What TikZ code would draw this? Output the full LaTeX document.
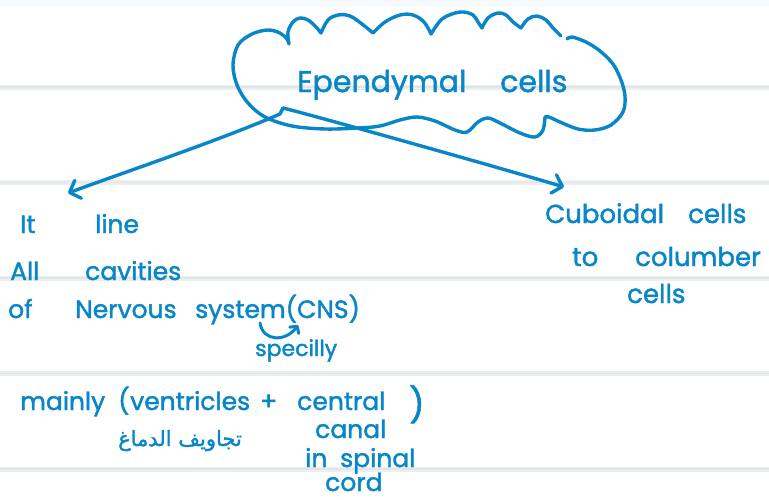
\documentclass[tikz,border=0pt]{standalone}
\usepackage{fontspec}
\setmainfont{Poppins}[FakeBold=1.6]
\newfontfamily\arabicfont[Script=Arabic,FakeBold=1.6]{DejaVu Sans}
\TeXXeTstate=1
\usetikzlibrary{arrows.meta}
\definecolor{ink}{RGB}{8,134,200}
\definecolor{ruleband}{RGB}{236,239,239}
\definecolor{rulecore}{RGB}{226,230,230}
\definecolor{topband}{RGB}{247,250,252}
% a word set in a box of fixed width, so the next word starts at a set place
\newcommand{\wbox}[2]{\makebox[#1pt][l]{#2}}

\begin{document}
\begin{tikzpicture}[x=1pt,y=-1pt,
  pen/.style={draw=ink, line width=3.4pt, line cap=round, line join=round},
  barb/.style={-{Straight Barb[length=9pt,width=19pt,round]}},
  smallbarb/.style={-{Straight Barb[length=5pt,width=11pt,round]}},
  note/.style={text=ink, inner sep=0pt, anchor=base west, font=\fontsize{25}{28}\selectfont},
  bignote/.style={note, font=\fontsize{26}{30}\selectfont},
  smallnote/.style={note, font=\fontsize{22}{26}\selectfont},
  titletext/.style={note, font=\fontsize{30}{34}\selectfont},
]
\useasboundingbox (0,0) rectangle (769,499);
\fill[white] (0,0) rectangle (769,499);
\fill[topband] (0,0) rectangle (769,6);

% ruled paper
\foreach \ry in {87,182.5,278,373.5,469} {
  \draw[ruleband, line width=5pt] (0,\ry) -- (769,\ry);
  \draw[rulecore, line width=1.4pt] (0,\ry) -- (769,\ry);
}

% cloud around the title
\draw[pen]
  plot[smooth, tension=0.55] coordinates {(567,39) (572,37) (586,42) (600,51) (613,64) (621,80) (625,96) (623,112) (611,125) (595,130) (578,129) (560,122) (549,117) (545,117)}
  -- plot[smooth, tension=0.55] coordinates {(545,117) (543,130) (535,137) (520,133) (500,123) (488,118) (478,122) (467,132) (455,130) (435,121) (417,117) (400,120) (380,126) (358,128) (325,129) (292,126) (265,117) (248,103) (237,85) (233,65) (238,45) (252,34) (268,30) (280,33) (287,39) (289,44)}
  -- plot[smooth, tension=0.6] coordinates {(289,44) (288,32) (293,22) (300,18) (308,20) (316,27) (321,33)}
  -- plot[smooth, tension=0.6] coordinates {(321,33) (328,20) (338,15) (350,16) (362,24) (373,33)}
  -- plot[smooth, tension=0.6] coordinates {(373,33) (385,22) (400,15) (413,15) (424,22) (431,34)}
  -- plot[smooth, tension=0.6] coordinates {(431,34) (441,20) (452,14) (463,12) (473,15) (478,22) (482,28)}
  -- plot[smooth, tension=0.6] coordinates {(482,28) (488,18) (498,13) (506,15) (513,22) (521,28)}
  -- plot[smooth, tension=0.6] coordinates {(521,28) (528,19) (537,16) (546,20) (553,28) (561,36)};

\node[titletext] (title) at (297,92) {\wbox{203}{Ependymal}cells};

% the two branches
\coordinate (src) at (283,108);
\coordinate (ltip) at (68,193);
\coordinate (rtip) at (564,187);
\draw[pen, barb] (src) -- ++(-3,6) .. controls +(-60,26) and +(60,-22) .. (ltip);
\draw[pen, barb] (src) .. controls +(40,10) and +(-60,-18) .. (rtip);

% left column
\node[note] (l1) at (20,233) {\wbox{75}{It}line};
\node[note] (l2) at (10,280) {\wbox{75}{All}cavities};
\node[note] (l3) at (8,318) {\wbox{67}{of}\wbox{120}{Nervous}system(CNS)};
\coordinate (cA) at (260,323);
\coordinate (cB) at (298,325);
\draw[pen, line width=3pt, smallbarb] (cA) .. controls (263,342) and (286,342) .. (cB);
\node[smallnote] (l4) at (255,356) {specilly};
\node[note] (l5) at (20,410) {\wbox{98}{mainly}\wbox{12}{(}\wbox{130}{ventricles}\wbox{37}{+}\wbox{112}{central}\raisebox{-7pt}{\fontsize{34}{34}\selectfont )}};
\node[text=ink, inner sep=0pt, anchor=base, font=\arabicfont\fontsize{21}{24}\selectfont] (ar) at (180,446) {\beginR تجاويف الدماغ\endR};
\node[note] (l6) at (315,438) {canal};
\node[note] (l7) at (305,467) {\wbox{35}{in}spinal};
\node[note] (l8) at (325,491) {cord};

% right column
\node[bignote] (r1) at (545,223) {\wbox{143}{Cuboidal}cells};
\node[bignote] (r2) at (572,266) {\wbox{63}{to}columber};
\node[bignote] (r3) at (627,303) {cells};
\end{tikzpicture}
\end{document}
